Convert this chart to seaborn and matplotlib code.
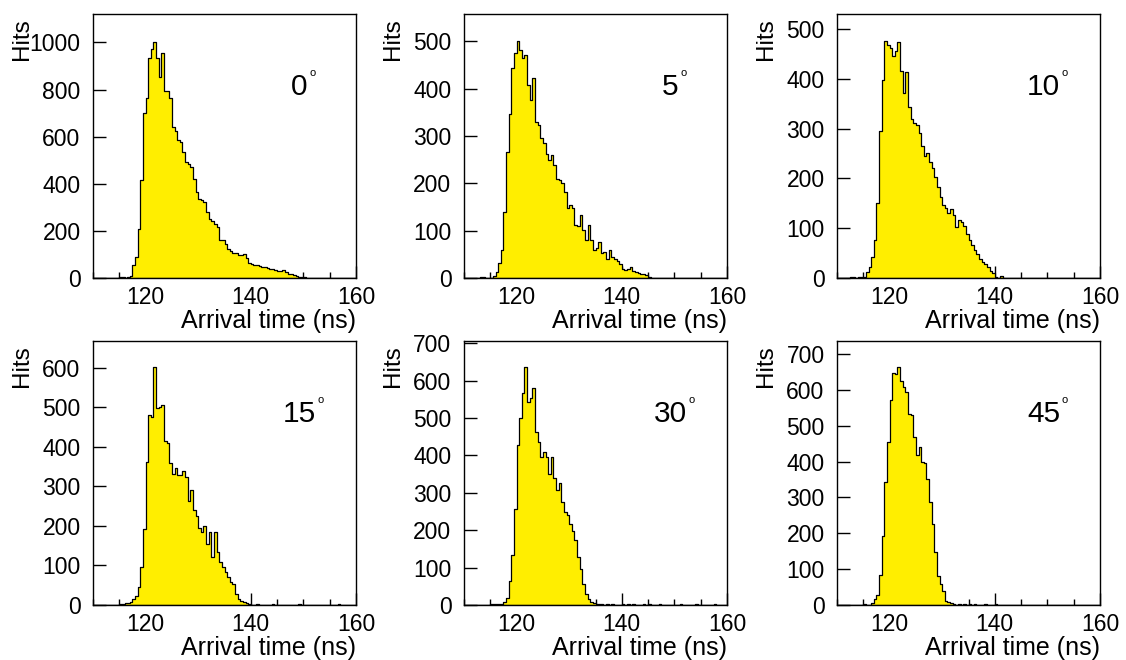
import numpy as np
import pandas as pd
import matplotlib
matplotlib.use("Agg")
import matplotlib.pyplot as plt
from matplotlib.ticker import FixedLocator, MultipleLocator
import seaborn as sns

# Histogram data: hits per 0.5 ns bin from 110 to 160 ns
bin_start, bin_stop, bin_width = 110, 160, 0.5
angles = [0, 5, 10, 15, 30, 45]

hits_0 = [0, 0, 0, 0, 0, 0, 0, 0, 0, 0,
          3, 3, 2, 4, 8, 54, 89, 207, 415, 699,
          766, 933, 971, 1004, 933, 855, 954, 795, 793, 763,
          642, 624, 585, 578, 536, 493, 486, 472, 422, 366,
          335, 330, 323, 280, 252, 240, 231, 217, 160, 160,
          146, 125, 115, 108, 106, 98, 96, 100, 85, 64,
          60, 56, 54, 50, 47, 45, 43, 40, 37, 36,
          30, 28, 34, 24, 18, 15, 11, 8, 6, 4,
          3, 2, 1, 1, 0, 0, 0, 0, 0, 0,
          0, 0, 0, 0, 0, 0, 0, 0, 0, 0]

hits_5 = [0, 0, 0, 0, 0, 0, 2, 2, 0, 0,
          0, 4, 13, 32, 60, 140, 267, 347, 443, 475,
          500, 482, 465, 472, 408, 376, 422, 330, 323, 295,
          285, 263, 249, 261, 239, 210, 207, 200, 182, 147,
          154, 147, 112, 109, 133, 101, 81, 112, 80, 60,
          64, 76, 53, 55, 41, 59, 44, 41, 36, 30,
          20, 16, 20, 23, 15, 13, 11, 9, 8, 6,
          2, 1, 1, 0, 0, 0, 0, 0, 0, 0,
          0, 0, 0, 0, 0, 0, 0, 0, 0, 0,
          0, 0, 0, 0, 0, 0, 0, 0, 0, 0]

hits_10 = [0, 0, 0, 0, 0, 2, 2, 0, 2, 2,
           3, 12, 22, 42, 77, 150, 296, 397, 476, 468,
           462, 445, 455, 473, 415, 371, 413, 344, 319, 311,
           307, 292, 265, 244, 250, 233, 220, 203, 183, 162,
           146, 140, 130, 138, 126, 103, 116, 113, 104, 89,
           76, 66, 56, 49, 39, 32, 28, 22, 15, 10,
           2, 0, 4, 0, 0, 0, 0, 0, 0, 0,
           0, 0, 0, 0, 0, 0, 0, 0, 0, 0,
           0, 0, 0, 0, 0, 0, 0, 0, 0, 0,
           0, 0, 0, 0, 0, 0, 0, 0, 0, 0]

hits_15 = [0, 0, 0, 0, 0, 0, 0, 0, 0, 0,
           3, 3, 4, 4, 8, 15, 24, 45, 95, 193,
           363, 482, 476, 601, 499, 501, 507, 414, 411, 359,
           332, 346, 328, 328, 338, 324, 262, 290, 241, 226,
           194, 184, 199, 155, 184, 121, 184, 134, 108, 95,
           83, 70, 57, 53, 28, 15, 9, 7, 4, 3,
           0, 0, 2, 0, 1, 0, 0, 0, 2, 0,
           1, 0, 0, 0, 1, 0, 0, 0, 2, 0,
           0, 0, 0, 1, 0, 0, 0, 0, 1, 0,
           0, 0, 0, 2, 0, 0, 0, 0, 0, 0]

hits_30 = [0, 0, 0, 0, 0, 0, 0, 0, 0, 0,
           3, 3, 3, 3, 4, 9, 18, 63, 134, 257,
           427, 499, 566, 636, 544, 553, 579, 463, 436, 396,
           409, 396, 349, 396, 340, 307, 325, 275, 249, 241,
           217, 199, 173, 128, 97, 56, 30, 16, 7, 5,
           4, 3, 3, 0, 2, 0, 3, 0, 1, 0,
           2, 0, 3, 0, 2, 0, 1, 0, 3, 0,
           2, 0, 0, 0, 2, 0, 0, 0, 1, 0,
           0, 0, 2, 0, 0, 0, 1, 0, 2, 0,
           0, 0, 1, 0, 0, 2, 0, 0, 1, 0]

hits_45 = [0, 0, 0, 0, 0, 0, 0, 0, 0, 0,
           2, 0, 0, 5, 17, 28, 84, 192, 343, 455,
           571, 646, 643, 663, 624, 609, 593, 532, 531, 469,
           419, 441, 399, 397, 350, 287, 226, 149, 82, 59,
           40, 12, 7, 6, 4, 0, 3, 0, 2, 0,
           3, 0, 2, 0, 1, 0, 2, 0, 1, 0,
           2, 0, 0, 0, 1, 0, 0, 0, 0, 0,
           1, 0, 0, 0, 0, 0, 0, 0, 1, 0,
           0, 0, 0, 0, 0, 0, 0, 0, 0, 0,
           0, 0, 0, 0, 0, 0, 0, 0, 0, 0]

all_hits = [hits_0, hits_5, hits_10, hits_15, hits_30, hits_45]
y_tops = [1121, 558, 530, 668, 706, 736]
y_steps = [200, 100, 100, 100, 100, 100]

# style
sns.set_theme(style="ticks")
plt.rcParams["font.family"] = ["Liberation Sans", "DejaVu Sans"]
plt.rcParams["text.color"] = "black"
plt.rcParams["xtick.color"] = "black"
plt.rcParams["ytick.color"] = "black"

fig = plt.figure(figsize=(11.26, 6.6), dpi=100)
W, H = 1126, 660
col_left = [93, 464, 837]
row_top = [14, 341]
ax_w, ax_h = 263, 264

centers = np.arange(bin_start, bin_stop, bin_width) + bin_width / 2

for k, (angle, hits) in enumerate(zip(angles, all_hits)):
    r, c = divmod(k, 3)
    ax = fig.add_axes([col_left[c] / W, 1 - (row_top[r] + ax_h) / H, ax_w / W, ax_h / H])
    df = pd.DataFrame({"time": centers, "hits": hits})
    sns.histplot(data=df, x="time", weights="hits", binwidth=bin_width,
                 binrange=(bin_start, bin_stop), element="step",
                 fill=True, color="#ffee00", alpha=1, edgecolor="black",
                 linewidth=0.9, ax=ax)
    ax.set_xlim(110, 160)
    ax.set_ylim(0, y_tops[k])
    ax.set_xlabel("")
    ax.set_ylabel("")

    ax.xaxis.set_major_locator(FixedLocator([120, 140, 160]))
    ax.xaxis.set_minor_locator(MultipleLocator(5))
    ax.yaxis.set_major_locator(MultipleLocator(y_steps[k]))
    ax.tick_params(axis="both", which="major", direction="in", length=9, width=1,
                   labelsize=16.5, color="black", labelcolor="black")
    ax.tick_params(axis="x", which="minor", direction="in", length=4.5, width=1)
    ax.tick_params(axis="x", which="major", pad=6)
    ax.tick_params(axis="y", which="major", pad=9)
    for sp in ax.spines.values():
        sp.set_color("black")
        sp.set_linewidth(1)

    # angle label with a small raised degree ring
    ax.text(0.785, 0.695, str(angle), transform=ax.transAxes,
            ha="center", va="baseline", fontsize=21.5, color="black")
    ax.annotate("o", xy=(0.785, 0.695), xycoords="axes fraction",
                xytext=(len(str(angle)) * 6 + 1, 13), textcoords="offset points",
                ha="left", va="baseline", fontsize=8, color="black")
    ax.text(-0.27, 0.985, "Hits", transform=ax.transAxes, rotation=90,
            ha="center", va="top", fontsize=17.5, color="black")
    ax.text(1.0, -0.19, "Arrival time (ns)", transform=ax.transAxes,
            ha="right", va="baseline", fontsize=18, color="black")

fig.savefig("out.png", dpi=100, facecolor="white")
plt.close(fig)
